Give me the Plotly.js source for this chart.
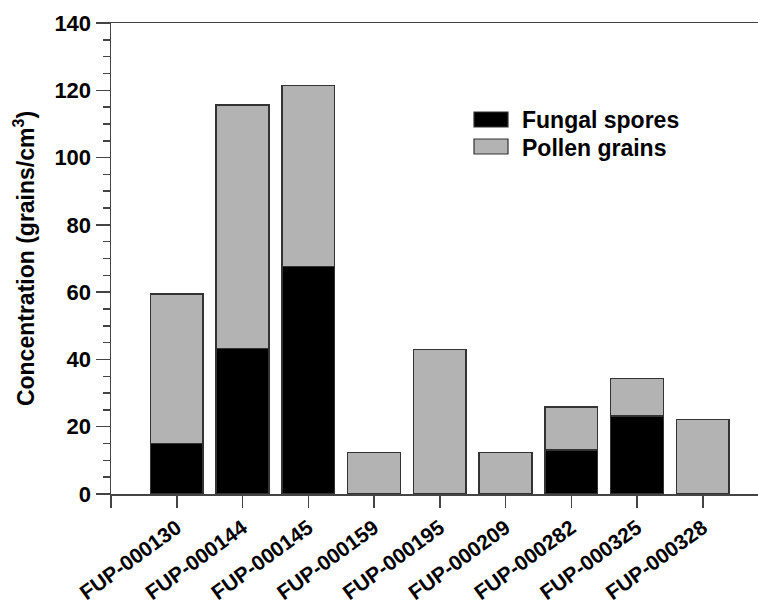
<!DOCTYPE html>
<html>
<head>
<meta charset="utf-8">
<script src="https://cdn.plot.ly/plotly-3.0.1.min.js"></script>
<style>html,body{margin:0;padding:0;background:#fff;}</style>
</head>
<body>
<div id="chart" style="width:758px;height:608px;"></div>
<script>
const categories = ['FUP-000130','FUP-000144','FUP-000145','FUP-000159','FUP-000195','FUP-000209','FUP-000282','FUP-000325','FUP-000328'];
const fungalSpores = [15.0, 43.3, 67.6, 0, 0, 0, 13.1, 23.2, 0];
const pollenGrains = [44.5, 72.4, 53.8, 12.3, 43.0, 12.3, 12.7, 11.1, 22.2];
const seriesNames = ['Fungal spores', 'Pollen grains'];
const yTicks = [0, 20, 40, 60, 80, 100, 120, 140];

const xIdx = categories.map((c, i) => i);
const font = 'Liberation Sans, Arial, sans-serif';

const traces = [
  {type: 'bar', name: seriesNames[0], x: xIdx, y: fungalSpores, width: 0.8,
   marker: {color: '#000000', line: {color: '#333333', width: fungalSpores.map(v => v > 0 ? 1.5 : 0)}}},
  {type: 'bar', name: seriesNames[1], x: xIdx, y: pollenGrains, width: 0.8,
   marker: {color: '#b3b3b3', line: {color: '#333333', width: 1.5}}}
];

const L = 111, R = 758, T = 23, B = 494;
const px = v => (v - L) / (R - L);
const py = v => (B - v) / (B - T);

const shapes = [
  {type: 'rect', xref: 'paper', yref: 'paper', x0: px(474), x1: px(508), y0: py(127), y1: py(112),
   fillcolor: '#000000', line: {color: '#333333', width: 1.2}},
  {type: 'rect', xref: 'paper', yref: 'paper', x0: px(474), x1: px(508), y0: py(154), y1: py(139),
   fillcolor: '#b3b3b3', line: {color: '#333333', width: 1.2}}
];
const annotations = [
  {xref: 'paper', yref: 'paper', x: px(520), y: py(120), xanchor: 'left', yanchor: 'middle',
   text: '<b>' + seriesNames[0] + '</b>', showarrow: false, font: {family: font, size: 23, color: '#000'}},
  {xref: 'paper', yref: 'paper', x: px(520), y: py(148), xanchor: 'left', yanchor: 'middle',
   text: '<b>' + seriesNames[1] + '</b>', showarrow: false, font: {family: font, size: 23, color: '#000'}}
];

const layout = {
  width: 758, height: 608,
  margin: {l: L, r: 0, t: T, b: 608 - B},
  barmode: 'stack',
  showlegend: false,
  paper_bgcolor: '#fff', plot_bgcolor: '#fff',
  font: {family: font, color: '#000'},
  xaxis: {
    range: [-1, -1 + (R - L) / 65.75],
    tickvals: [-1].concat(xIdx),
    ticktext: [''].concat(categories),
    tickangle: -36,
    ticks: 'outside', ticklen: 12, tickwidth: 1.5, tickcolor: '#444',
    showline: true, linecolor: '#444', linewidth: 1.5, mirror: true,
    showgrid: false, zeroline: false,
    tickfont: {family: font, size: 21, color: '#000', weight: 'bold'}
  },
  yaxis: {
    range: [0, 140],
    tickvals: yTicks,
    ticks: 'outside', ticklen: 14, tickwidth: 1.5, tickcolor: '#444',
    minor: {dtick: 5, ticks: 'outside', ticklen: 7, tickwidth: 1.5, tickcolor: '#444', showgrid: false},
    showline: true, linecolor: '#444', linewidth: 1.5,
    showgrid: false, zeroline: false,
    tickfont: {family: font, size: 22, color: '#000', weight: 'bold'},
    title: {text: '<b>Concentration (grains/cm<sup>3</sup>)</b>', standoff: 13,
            font: {family: font, size: 23, color: '#000'}}
  },
  shapes: shapes,
  annotations: annotations
};

Plotly.newPlot('chart', traces, layout, {displayModeBar: false, staticPlot: true});
</script>
</body>
</html>
